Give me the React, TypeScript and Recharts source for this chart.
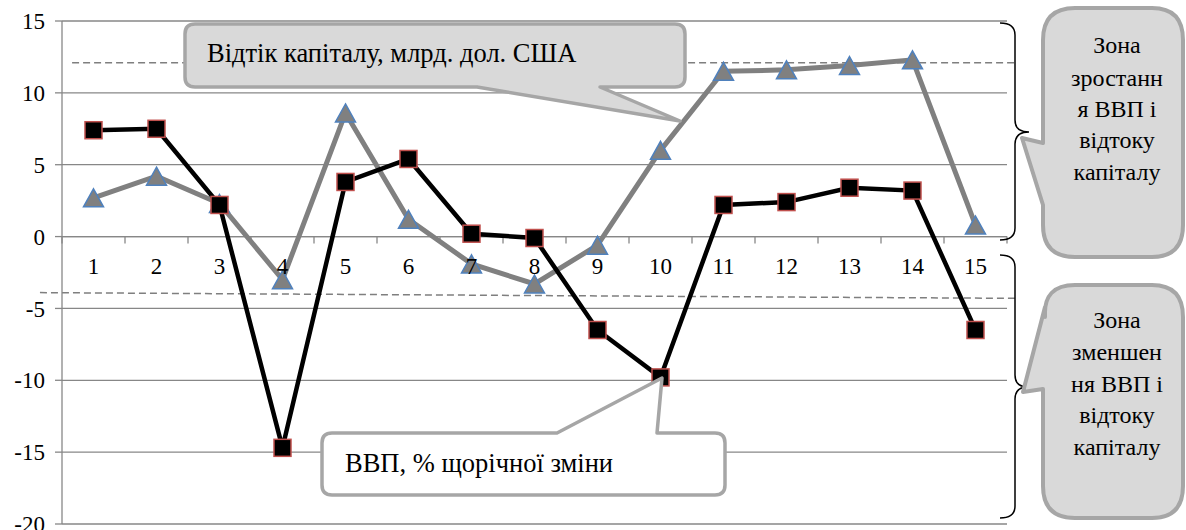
import { LineChart, Line, XAxis, YAxis, CartesianGrid, ReferenceLine, LabelList } from 'recharts'

const categories = ['1', '2', '3', '4', '5', '6', '7', '8', '9', '10', '11', '12', '13', '14', '15']
const gdp = [7.4, 7.5, 2.2, -14.7, 3.8, 5.4, 0.2, -0.1, -6.5, -9.8, 2.2, 2.4, 3.4, 3.2, -6.5]
const capital = [2.7, 4.2, 2.3, -3.0, 8.6, 1.2, -1.9, -3.3, -0.6, 6.0, 11.5, 11.6, 11.9, 12.3, 0.8]
const yTicks = [-20, -15, -10, -5, 0, 5, 10, 15]
const upperDash = [12.1, 12.1]
const lowerDash = [-3.9, -4.3]

const data = categories.map((c, i) => ({ x: i + 1, label: c, gdp: gdp[i], capital: capital[i], zero: 0 }))
const boundaries = categories.map((_, i) => i + 0.5).concat(categories.length + 0.5)

const FONT = 'Liberation Serif, Tinos, Times New Roman, DejaVu Serif, serif'
const GRID = '#878787'

const Square = (p: any) => (
  <rect key={`sq${p.index}`} x={p.cx - 8.5} y={p.cy - 8.5} width={17} height={17} fill="#000" stroke="#c0504d" strokeWidth={1.5} />
)
const Triangle = (p: any) => (
  <polygon key={`tr${p.index}`} points={`${p.cx},${p.cy - 9} ${p.cx + 10},${p.cy + 9} ${p.cx - 10},${p.cy + 9}`} fill="#808080" stroke="#4f81bd" strokeWidth={1.5} />
)

const XLabel = (p: any) => (
  <text x={p.x} y={p.y + 37} textAnchor="middle" style={{ fontFamily: FONT, fontSize: 23 }} fill="#000">{p.value}</text>
)

function Overlay() {
  const co = '#a6a6a6'
  const txt = { style: { fontFamily: FONT, fontSize: 24 }, fill: '#000' }
  const big = { style: { fontFamily: FONT, fontSize: 26.5 }, fill: '#000' }
  return (
    <svg width={1186} height={530} style={{ position: 'absolute', left: 0, top: 0, pointerEvents: 'none' }}>
      {/* capital outflow callout */}
      <path d="M195,24 H675 Q685,24 685,34 V77 Q685,87 675,87 H600 L680,121 L477,87 H195 Q185,87 185,77 V34 Q185,24 195,24 Z"
        fill="#d9d9d9" stroke={co} strokeWidth={3.5} strokeLinejoin="round" />
      <text x={207} y={62} {...big}>Відтік капіталу, млрд. дол. США</text>
      {/* gdp callout */}
      <path d="M332,433 H557 L662,378 L657,433 H715 Q725,433 725,443 V485 Q725,495 715,495 H332 Q322,495 322,485 V443 Q322,433 332,433 Z"
        fill="#fff" stroke={co} strokeWidth={3.5} strokeLinejoin="round" />
      <text x={345} y={472} {...big}>ВВП, % щорічної зміни</text>
      {/* braces */}
      <path d="M1000,23 Q1015,23 1015,35 V120 Q1015,132 1029,132 Q1015,132 1015,144 V228 Q1015,240 1000,240" fill="none" stroke="#000" strokeWidth={1.5} />
      <path d="M1000,255 Q1015,255 1015,267 V375 Q1015,387 1028,387 Q1015,387 1015,399 V506 Q1015,518 1000,518" fill="none" stroke="#000" strokeWidth={1.5} />
      {/* zone boxes */}
      <path d="M1075,8 H1152 Q1183,8 1183,40 V225 Q1183,257 1152,257 H1075 Q1043,257 1043,225 V205 L1022,138 L1043,143 V40 Q1043,8 1075,8 Z"
        fill="#d9d9d9" stroke={co} strokeWidth={4} strokeLinejoin="round" />
      <text textAnchor="middle" {...txt}>
        <tspan x={1117} y={53}>Зона</tspan>
        <tspan x={1117} y={86}>зростанн</tspan>
        <tspan x={1117} y={117}>я ВВП і</tspan>
        <tspan x={1117} y={148}>відтоку</tspan>
        <tspan x={1117} y={180}>капіталу</tspan>
      </text>
      <path d="M1075,285 H1152 Q1183,285 1183,317 V486 Q1183,518 1152,518 H1075 Q1043,518 1043,486 V389 L1023,392 L1045,307 V317 Q1043,285 1075,285 Z"
        fill="#d9d9d9" stroke={co} strokeWidth={4} strokeLinejoin="round" />
      <text textAnchor="middle" {...txt}>
        <tspan x={1117} y={328}>Зона</tspan>
        <tspan x={1117} y={360}>зменшен</tspan>
        <tspan x={1117} y={392}>ня ВВП і</tspan>
        <tspan x={1117} y={423}>відтоку</tspan>
        <tspan x={1117} y={455}>капіталу</tspan>
      </text>
    </svg>
  )
}

export default function App() {
  return (
    <div style={{ position: 'absolute', left: 0, top: 0, width: 1186, height: 530, background: '#fff', fontFamily: FONT }}>
      <LineChart width={1186} height={530} data={data} margin={{ top: 21, right: 179, bottom: 6, left: 0 }} style={{ fontFamily: FONT }}>
        <CartesianGrid horizontal vertical={false} stroke={GRID} strokeWidth={1.3} />
        <XAxis dataKey="x" type="number" domain={[0.5, 15.5]} hide />
        <YAxis
          domain={[-20, 15]} ticks={yTicks} width={62} interval={0}
          axisLine={{ stroke: GRID, strokeWidth: 1.3 }} tickLine={{ stroke: GRID, strokeWidth: 1.3 }} tickSize={7} tickMargin={10}
          tick={{ fill: '#000', fontSize: 23, style: { fontFamily: FONT } }}
        />
        <ReferenceLine y={0} stroke={GRID} strokeWidth={1.3} />
        {boundaries.map((b) => (
          <ReferenceLine key={b} segment={[{ x: b, y: 0 }, { x: b, y: -0.48 }]} stroke={GRID} strokeWidth={1.3} ifOverflow="visible" />
        ))}
        <ReferenceLine segment={[{ x: 0.66, y: upperDash[0] }, { x: 15.65, y: upperDash[1] }]} stroke="#7f7f7f" strokeWidth={1.5} strokeDasharray="7 4" ifOverflow="visible" />
        <ReferenceLine segment={[{ x: 0.15, y: lowerDash[0] }, { x: 15.65, y: lowerDash[1] }]} stroke="#7f7f7f" strokeWidth={1.5} strokeDasharray="7 4" ifOverflow="visible" />
        <Line dataKey="zero" stroke="none" dot={false} activeDot={false} isAnimationActive={false}>
          <LabelList dataKey="label" content={XLabel} />
        </Line>
        <Line dataKey="capital" stroke="#808080" strokeWidth={5} dot={Triangle} activeDot={false} isAnimationActive={false} />
        <Line dataKey="gdp" stroke="#000" strokeWidth={4.5} dot={Square} activeDot={false} isAnimationActive={false} />
      </LineChart>
      <Overlay />
    </div>
  )
}
